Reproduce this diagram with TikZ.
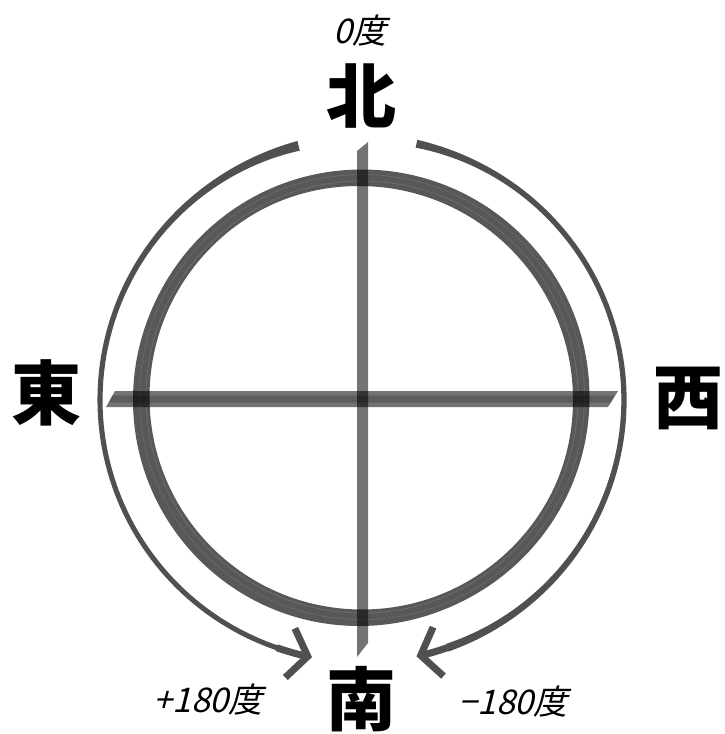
\documentclass[tikz,border=0pt]{standalone}
\usepackage{fontspec}
\usetikzlibrary{arrows.meta,calc}
\newfontfamily\cjk{Noto Sans CJK JP}
\newfontfamily\cjksl{Noto Sans CJK JP}[FakeSlant=0.25]
\definecolor{ringgray}{HTML}{585858}
\definecolor{ringlight}{HTML}{6C6C6C}
\definecolor{arcgray}{HTML}{505050}
\tikzset{
  bigchar/.style={inner sep=0pt, font=\cjk\bfseries\fontsize{70}{70}\selectfont},
  deglabel/.style={inner sep=0pt, font=\cjksl\fontsize{34}{34}\selectfont},
  barfill/.style={fill=black, fill opacity=0.55},
  barstripe/.style={fill=black, fill opacity=0.2},
  arrowseg/.style={draw=arcgray, line width=7pt, -{Straight Barb[length=18pt,width=50pt]}}
}
\begin{document}
\begin{tikzpicture}[x=1pt,y=1pt]
\useasboundingbox (0,0) rectangle (724,-734);
\fill[white] (0,0) rectangle (724,-734);
\coordinate (C) at (362,-400);
\coordinate (R) at (362,-397);
% ring
\draw[ringgray, line width=15pt] (R) circle (220);
\draw[ringgray, line width=12pt] ([shift={(-3,-3)}]R) circle (220);
\draw[ringlight, line width=0.8pt] (R) circle (216);
\draw[ringlight, line width=0.6pt] (R) circle (222.5);
% outer arcs (tapered)
\fill[arcgray] plot[domain=104:252, samples=90] ({362+(262+2.5+2.5*exp(-(\x-104)/20))*cos(\x)}, {-400+(262+2.5+2.5*exp(-(\x-104)/20))*sin(\x)})
  -- plot[domain=252:104, samples=90] ({362+(262-2.5-2.5*exp(-(\x-104)/20))*cos(\x)}, {-400+(262-2.5-2.5*exp(-(\x-104)/20))*sin(\x)}) -- cycle;
\fill[arcgray] plot[domain=78:-71, samples=90] ({362+(262+2.5+1.5*exp(-(78-\x)/15)+1.5*exp(-(\x+71)/30))*cos(\x)}, {-400+(262+2.5+1.5*exp(-(78-\x)/15)+1.5*exp(-(\x+71)/30))*sin(\x)})
  -- plot[domain=-71:78, samples=90] ({362+(262-2.5-1.5*exp(-(78-\x)/15)-1.5*exp(-(\x+71)/30))*cos(\x)}, {-400+(262-2.5-1.5*exp(-(78-\x)/15)-1.5*exp(-(\x+71)/30))*sin(\x)}) -- cycle;
\coordinate (la) at ($(C)+(251:262)$);
\coordinate (ra) at ($(C)+(-70:262)$);
\draw[arrowseg] (la) arc (251:259:262);
\draw[arrowseg] (ra) arc (-70:-78:262);
% horizontal bar
\fill[barfill] (115,-391) -- (618,-391) -- (608,-407) -- (106,-407) -- cycle;
\fill[barstripe] (112,-395.5) -- (615,-395.5) -- (611,-402.5) -- (109,-402.5) -- cycle;
% vertical bar
\fill[barfill] (357,-151) -- (368,-142) -- (368,-643) -- (357,-657) -- cycle;
% labels
\node[deglabel] (deg0) at (360,-31) {0度};
\node[bigchar] (north) at (361,-96) {北};
\node[bigchar] (east) at (47,-393) {東};
\node[bigchar] (west) at (688,-398) {西};
\node[bigchar] (south) at (361,-699) {南};
\node[deglabel] (plus) at (208,-700) {+180度};
\node[deglabel] (minus) at (513,-702) {−180度};
\end{tikzpicture}
\end{document}
